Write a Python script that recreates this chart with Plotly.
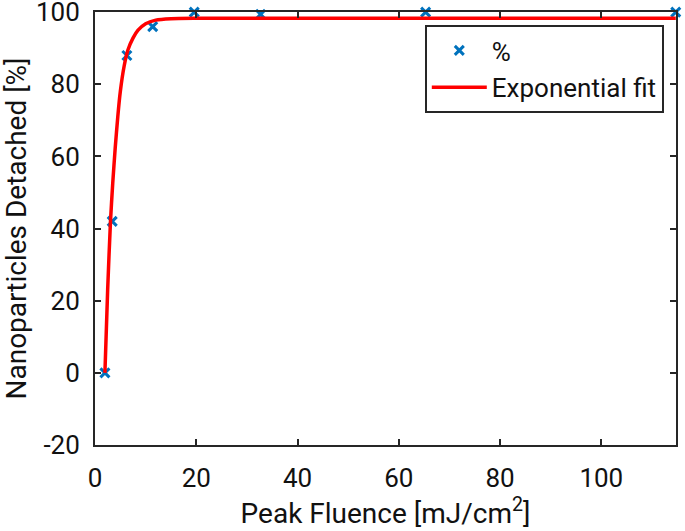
import plotly.graph_objects as go

# measured data (Peak fluence, % detached)
fluence = [1.96, 3.4, 6.3, 11.4, 19.6, 32.7, 65.3, 114.7]
detached = [0, 42, 88, 96, 100, 99.4, 100, 100]

# exponential fit curve
fit_x = [1.96, 2.5, 3.06, 3.5, 4.0, 4.5, 5.0, 5.75, 6.5, 7.5, 8.5, 10, 12, 15, 20, 40, 80, 114.7]
fit_y = [0, 23, 42, 52.5, 62.5, 71, 78, 85, 89.5, 92.8, 95, 96.8, 97.8, 98.2, 98.3, 98.3, 98.3, 98.3]

x_ticks = [0, 20, 40, 60, 80, 100]
x_labels = ["0", "20", "40", "60", "80", "100"]
y_ticks = [-20, 0, 20, 40, 60, 80, 100]
y_labels = ["-20", "0", "20", "40", "60", "80", "100"]

FONT = "Roboto"
AX = "#262626"
TXT = "#111111"

fig = go.Figure()
fig.add_trace(go.Scatter(
    x=fluence, y=detached, mode="markers", name="%",
    marker=dict(symbol="x-thin", size=9, color="#0072BD",
                line=dict(color="#0072BD", width=3)),
    cliponaxis=False,
))
fig.add_trace(go.Scatter(
    x=fit_x, y=fit_y, mode="lines", name="Exponential fit",
    line=dict(color="#FF0000", width=3.5, shape="spline", smoothing=0.6),
    cliponaxis=False,
))

axis_common = dict(
    showline=True, linecolor=AX, linewidth=2, mirror="ticks",
    ticks="inside", ticklen=6, tickwidth=2, tickcolor=AX,
    showgrid=False, zeroline=False, automargin=False,
    tickfont=dict(family=FONT, size=26, color=TXT),
    tickmode="array", ticklabeloverflow="allow",
)

fig.update_layout(
    width=685, height=531,
    margin=dict(l=95, r=9, t=12, b=86),
    paper_bgcolor="white", plot_bgcolor="white",
    font=dict(family=FONT, color=TXT),
    xaxis=dict(range=[0, 114.75], tickvals=x_ticks, ticktext=x_labels,
               ticklabelstandoff=9,
               title=dict(text="Peak Fluence [mJ/cm<sup>2</sup>]",
                          font=dict(family=FONT, size=28, color=TXT),
                          standoff=10),
               **axis_common),
    yaxis=dict(range=[-20, 100.05], tickvals=y_ticks, ticktext=y_labels,
               ticklabelstandoff=8,
               title=dict(text="Nanoparticles Detached [%]",
                          font=dict(family=FONT, size=28, color=TXT),
                          standoff=10),
               **axis_common),
    legend=dict(x=0.979, y=0.97, xanchor="right", yanchor="top",
                bgcolor="white", bordercolor=AX, borderwidth=2,
                font=dict(family=FONT, size=26, color=TXT),
                tracegroupgap=0, itemwidth=55),
    showlegend=True,
)

fig.write_html("out.html",
               config={"displayModeBar": False},
               post_script="document.body.style.margin='0';document.body.style.overflow='hidden';")
